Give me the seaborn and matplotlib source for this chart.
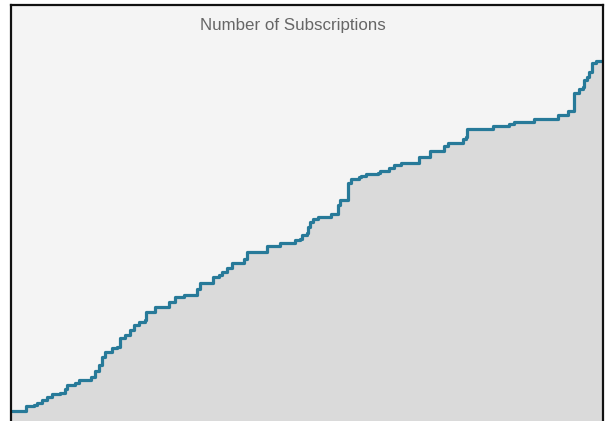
""" Number of subscriptions over time (step area chart) """

import matplotlib
matplotlib.use('Agg')
import matplotlib.pyplot as plt
import seaborn as sns
import pandas as pd

sns.set_style('white')

# day on which the subscription count changes
days = [0, 14, 22, 25, 30, 35, 40, 48, 53, 55, 63, 67, 79, 83, 87, 90,
        93, 100, 105, 108, 113, 118, 122, 127, 133, 134, 143, 157, 163,
        172, 185, 188, 201, 207, 210, 215, 220, 232, 235, 255, 268, 283,
        288, 290, 295, 297, 299, 302, 307, 320, 327, 329, 337, 340, 348,
        350, 355, 367, 369, 378, 383, 390, 408, 419, 433, 437, 452, 455,
        456, 482, 498, 503, 523, 547, 557, 563, 568, 572, 573, 576, 578,
        581, 585, 600]

# number of subscriptions from that day on
subs = [10, 15, 16, 18, 21, 24, 27, 28, 32, 36, 38, 41, 44, 50, 56, 64,
        69, 73, 74, 83, 86, 91, 96, 99, 101, 109, 114, 119, 124, 126, 132,
        138, 144, 146, 149, 153, 158, 162, 169, 175, 178, 181, 182, 186,
        188, 194, 199, 202, 204, 207, 216, 221, 238, 242, 244, 245, 247,
        248, 250, 253, 256, 258, 264, 270, 275, 278, 282, 284, 292, 295,
        297, 299, 302, 306, 310, 328, 332, 334, 341, 344, 349, 358, 360,
        360]

dados = pd.DataFrame({'dia': days, 'assinaturas': subs})

fig = plt.figure(figsize=(6.05, 4.21), dpi=100)
fig.patch.set_facecolor('white')
ax = fig.add_axes([11 / 605, 0, 592 / 605, 416 / 421])
ax.set_facecolor('#f4f4f4')

# area under the line
ax.fill_between(dados['dia'], dados['assinaturas'], step='post',
                color='#dadada', linewidth=0)

sns.lineplot(
    data=dados,
    x='dia',
    y='assinaturas',
    drawstyle='steps-post',
    color='#277a99',
    linewidth=2.3,
    ax=ax
)

ax.set_xlim(-1, 592)
ax.set_ylim(0, 416)
ax.set_xticks([])
ax.set_yticks([])
ax.set_xlabel('')
ax.set_ylabel('')

ax.spines['bottom'].set_visible(False)
for lado in ['left', 'top', 'right']:
    ax.spines[lado].set_color('#111111')
    ax.spines[lado].set_linewidth(1.6)

fig.text(293 / 605, 1 - 30 / 421, 'Number of Subscriptions',
         ha='center', va='baseline', fontsize=12.2,
         family='Liberation Sans', color='#666666')

fig.savefig('out.png', dpi=100)
